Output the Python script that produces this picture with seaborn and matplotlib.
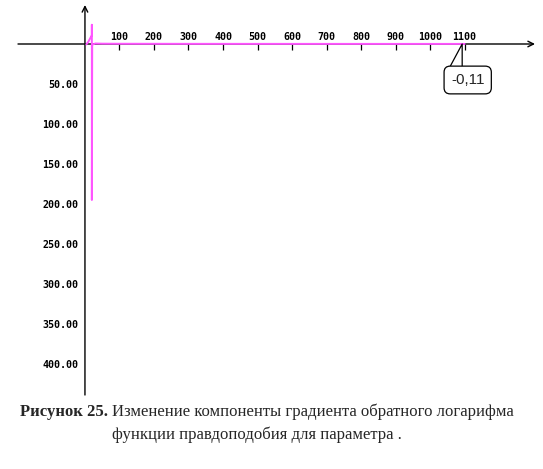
import numpy as np
import pandas as pd
import matplotlib
matplotlib.use("Agg")
import matplotlib.pyplot as plt
import seaborn as sns

# data (y axis drawn downward, as in the original)
iteration = [4, 10, 15, 20, 20, 20, 21, 30, 50, 100, 200, 300, 400, 500,
             600, 700, 800, 900, 1000, 1100]
gradient = [0.5, -3.0, -7.0, -11.0, -24.0, 195.0, 0.8, -0.6, -0.4, -0.3,
            -0.25, -0.2, -0.18, -0.16, -0.15, -0.14, -0.13, -0.12, -0.115, -0.11]
x_ticks = [100, 200, 300, 400, 500, 600, 700, 800, 900, 1000, 1100]
y_ticks = [50, 100, 150, 200, 250, 300, 350, 400]
callout_label = "-0,11"
caption_bold = "Рисунок 25."
caption_line1 = "Изменение компоненты градиента обратного логарифма"
caption_line2 = "функции правдоподобия для параметра ."

df = pd.DataFrame({"iteration": iteration, "gradient": gradient})

sns.set_style("white")
fig = plt.figure(figsize=(5.43, 4.69), dpi=100)
ax = fig.add_axes([18 / 543, 1 - 395 / 469, 517 / 543, 390 / 469])

ax.set_xlim(-194, 1304)
ax.set_ylim(438.75, -48.75)

# axes crossing at the origin, drawn under the curve
ax.annotate("", xy=(1, 0), xytext=(0, 0), xycoords=("axes fraction", "data"),
            arrowprops=dict(arrowstyle="->", lw=1, color="black", shrinkA=0, shrinkB=0),
            zorder=1)
ax.annotate("", xy=(0, 1), xytext=(0, 0), xycoords=("data", "axes fraction"),
            arrowprops=dict(arrowstyle="->", lw=1, color="black", shrinkA=0, shrinkB=0),
            zorder=1)

sns.lineplot(data=df, x="iteration", y="gradient", sort=False, estimator=None,
             color="#ff55ff", lw=1.4, ax=ax, zorder=5)

ax.set_xlabel("")
ax.set_ylabel("")
ax.grid(False)

for s in ax.spines.values():
    s.set_visible(False)
ax.spines["top"].set_position(("data", 0))
ax.spines["left"].set_position(("data", 0))
ax.xaxis.tick_top()
ax.set_xticks(x_ticks)
ax.set_yticks(y_ticks)
ax.set_yticklabels([f"{v:.2f}" for v in y_ticks])
tick_font = dict(family="DejaVu Sans Mono", weight="bold", size=7.2)
for lab in ax.get_xticklabels() + ax.get_yticklabels():
    lab.set_fontproperties(matplotlib.font_manager.FontProperties(**tick_font))
ax.tick_params(axis="x", direction="in", length=4, width=0.9, pad=1.5, colors="black")
ax.tick_params(axis="y", direction="inout", length=4, width=0.9, pad=3, colors="black")

# value callout at the last point
ax.plot([1052, 1093, 1093], [33, 0, 33], color="black", lw=0.9, zorder=6)
ax.text(1109, 45, callout_label, ha="center", va="center", fontsize=11,
        family="Liberation Sans", zorder=7,
        bbox=dict(boxstyle="round,pad=0.45,rounding_size=0.4", fc="white", ec="black", lw=0.9))

# caption
fig.text(20 / 543, 1 - 412 / 469, caption_bold, ha="left", va="center",
         family="Liberation Serif", weight="bold", size=12)
fig.text(112 / 543, 1 - 412 / 469, caption_line1, ha="left", va="center",
         family="Liberation Serif", size=12)
fig.text(257 / 543, 1 - 435 / 469, caption_line2, ha="center", va="center",
         family="Liberation Serif", size=12)

fig.savefig("out.png", dpi=100)
